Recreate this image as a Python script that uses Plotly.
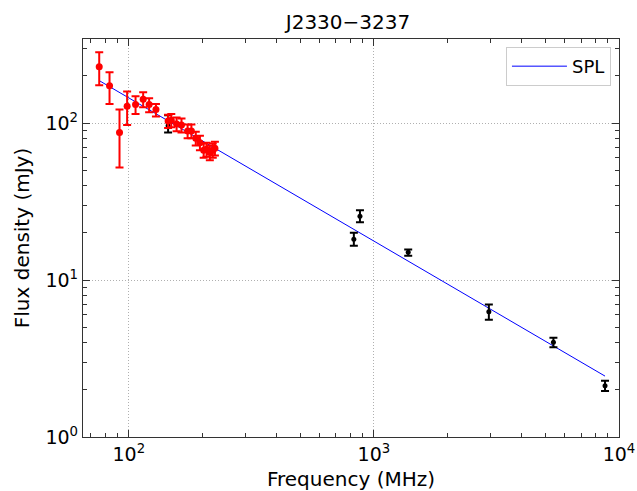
import numpy as np
import plotly.graph_objects as go

# Red (low-frequency) measurements
freq_red = [75.7, 83.4, 91.6, 98.4, 106.5, 114.4, 121, 129, 144.6, 149, 156.6, 164,
            173.7, 180, 187.5, 195, 202, 207.5, 214, 220, 224.5]
flux_red = [228, 173, 87, 128, 131, 142, 131, 122, 103, 104, 98.5, 97,
            89, 89, 80, 75, 67, 68, 65, 67, 69]
err_red_hi = [54, 38, 35, 31, 17, 15, 13, 10, 10, 10, 10, 10, 9, 9, 8, 8, 7, 7, 7, 7, 7]
err_red_lo = [54, 41, 35, 31, 17, 16, 14, 12, 10, 10, 10, 10, 9, 9, 8, 8, 7, 7, 7, 7, 7]

# Black (other) measurements
freq_blk = [144.6, 828, 877, 1380, 2944, 5400, 8770]
flux_blk = [96, 18.2, 25.5, 15.0, 6.28, 4.01, 2.12]
err_blk_hi = [16, 1.8, 2.3, 0.65, 0.7, 0.27, 0.16]
err_blk_lo = [9, 1.7, 2.2, 0.7, 0.7, 0.28, 0.16]

# Simple power-law model parameters
spl_ref_freq = 1000.0
spl_amp = 17.7
spl_index = -0.912
spl_fmin, spl_fmax = 75.7, 8770

# Tick labels
x_tickvals = [100, 1000, 10000]
x_ticktext = ["10<sup>2</sup>", "10<sup>3</sup>", "10<sup>4</sup>"]
y_tickvals = [1, 10, 100]
y_ticktext = ["10<sup>0</sup>", "10<sup>1</sup>", "10<sup>2</sup>"]

nu = np.geomspace(spl_fmin, spl_fmax, 50)
s_model = spl_amp * (nu / spl_ref_freq) ** spl_index

fig = go.Figure()
fig.add_trace(go.Scatter(x=nu, y=s_model, mode="lines", name="SPL",
                         line=dict(color="blue", width=1)))
fig.add_trace(go.Scatter(
    x=freq_blk, y=flux_blk, mode="markers", showlegend=False,
    marker=dict(color="black", size=5),
    error_y=dict(type="data", symmetric=False, array=err_blk_hi, arrayminus=err_blk_lo,
                 color="black", thickness=2, width=4)))
fig.add_trace(go.Scatter(
    x=freq_red, y=flux_red, mode="markers", showlegend=False,
    marker=dict(color="red", size=7),
    error_y=dict(type="data", symmetric=False, array=err_red_hi, arrayminus=err_red_lo,
                 color="red", thickness=2, width=4)))

axis_common = dict(
    type="log", showline=True, linecolor="#333333", linewidth=1.3, mirror="allticks",
    ticks="inside", ticklen=7, tickwidth=1, tickcolor="#333333",
    showgrid=True, gridcolor="#b0b0b0", griddash="1px,2px", gridwidth=1,
    zeroline=False, automargin=False, ticklabeloverflow="allow",
    minor=dict(ticks="inside", ticklen=3.5, tickcolor="#333333", dtick="D1", showgrid=False),
    tickfont=dict(family="DejaVu Sans", size=19, color="black"),
    title_font=dict(family="DejaVu Sans", size=20, color="black"),
)
fig.update_xaxes(**axis_common, range=[np.log10(65), 4], title_text="Frequency (MHz)",
                 tickmode="array", tickvals=x_tickvals, ticktext=x_ticktext,
                 title_standoff=8)
fig.update_yaxes(**axis_common, range=[0, np.log10(343)], title_text="Flux density (mJy)",
                 tickmode="array", tickvals=y_tickvals, ticktext=y_ticktext,
                 title_standoff=10)

fig.update_layout(
    width=637, height=491,
    margin=dict(l=83, r=18, t=39, b=54),
    plot_bgcolor="white", paper_bgcolor="white",
    title=dict(text="J2330\u22123237", xref="container", x=348 / 637, xanchor="center",
               yref="container", y=1 - 29 / 491, yanchor="bottom",
               font=dict(family="DejaVu Sans", size=20, color="black")),
    legend=dict(x=0.985, y=0.98, xanchor="right", yanchor="top", itemwidth=55,
                bgcolor="white", bordercolor="#cccccc", borderwidth=1,
                font=dict(family="DejaVu Sans", size=18, color="black")),
    showlegend=True,
)

fig.write_html(
    "out.html",
    config={"displayModeBar": False},
    post_script="document.body.style.margin='0';document.body.style.overflow='hidden';",
)
